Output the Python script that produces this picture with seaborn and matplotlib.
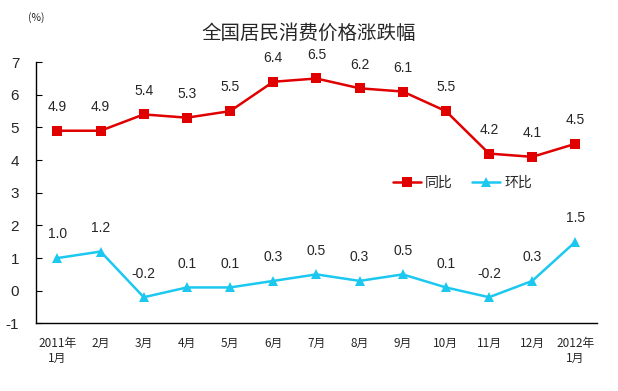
import numpy as np
import pandas as pd
import matplotlib
matplotlib.use("Agg")
import matplotlib.pyplot as plt
import seaborn as sns

# Data
months = ["2011年\n1月", "2月", "3月", "4月", "5月", "6月", "7月", "8月",
          "9月", "10月", "11月", "12月", "2012年\n1月"]
yoy = [4.9, 4.9, 5.4, 5.3, 5.5, 6.4, 6.5, 6.2, 6.1, 5.5, 4.2, 4.1, 4.5]
mom = [1.0, 1.2, -0.2, 0.1, 0.1, 0.3, 0.5, 0.3, 0.5, 0.1, -0.2, 0.3, 1.5]
series_names = ["同比", "环比"]

sns.set_style("white")
plt.rcParams['font.family'] = ['Noto Sans CJK SC', 'DejaVu Sans']

df = pd.DataFrame({
    "x": list(range(len(months))) * 2,
    "value": yoy + mom,
    "series": [series_names[0]] * len(yoy) + [series_names[1]] * len(mom),
})

red = "#E00000"
cyan = "#1CC8F0"

fig = plt.figure(figsize=(6.18, 3.91), dpi=100)
ax = fig.add_axes([0.058, 0.173, 0.908, 0.668])

sns.lineplot(data=df, x="x", y="value", hue="series", style="series",
             palette={"同比": red, "环比": cyan},
             markers={"同比": "s", "环比": "^"}, dashes=False,
             markersize=6.5, linewidth=1.8, markeredgewidth=0, ax=ax)

for vals in (yoy, mom):
    for i, v in enumerate(vals):
        ax.annotate(f"{v:.1f}", (i, v), xytext=(0, 12), textcoords="offset points",
                    ha="center", va="bottom", fontsize=10, family=['Liberation Sans', 'DejaVu Sans'])

ax.set_xlim(-0.5, len(months) - 0.5)
ax.set_ylim(-1, 7)
ax.set_yticks(range(-1, 8))
ax.set_yticklabels([str(v) for v in range(-1, 8)], fontsize=11, family=['Liberation Sans'])
ax.set_xticks(np.arange(len(months)))
ax.set_xticklabels(months, fontsize=8.5)
ax.set_xticks(np.arange(-0.5, len(months)), minor=True)
ax.tick_params(axis="x", which="major", length=0, pad=10)
ax.tick_params(axis="x", which="minor", length=4, direction="in", color="black")
ax.tick_params(axis="y", length=4, direction="in", color="black", left=True, pad=12)
ax.set_xlabel("")
ax.set_ylabel("")

for s in ["top", "right"]:
    ax.spines[s].set_visible(False)
for s in ["left", "bottom"]:
    ax.spines[s].set_color("black")
    ax.spines[s].set_linewidth(1)

ax.legend(loc="center left", bbox_to_anchor=(393 / 618, 1 - 183 / 391),
          bbox_transform=fig.transFigure, frameon=False, ncol=2,
          fontsize=10, handlelength=2.0, columnspacing=1.4, handletextpad=0.3,
          borderpad=0, borderaxespad=0)

fig.text(0.5, 0.915, "全国居民消费价格涨跌幅", ha="center", va="center", fontsize=14)
fig.text(0.058, 0.955, "(%)", ha="center", va="center", fontsize=7.5)

fig.savefig("out.png", dpi=100)
